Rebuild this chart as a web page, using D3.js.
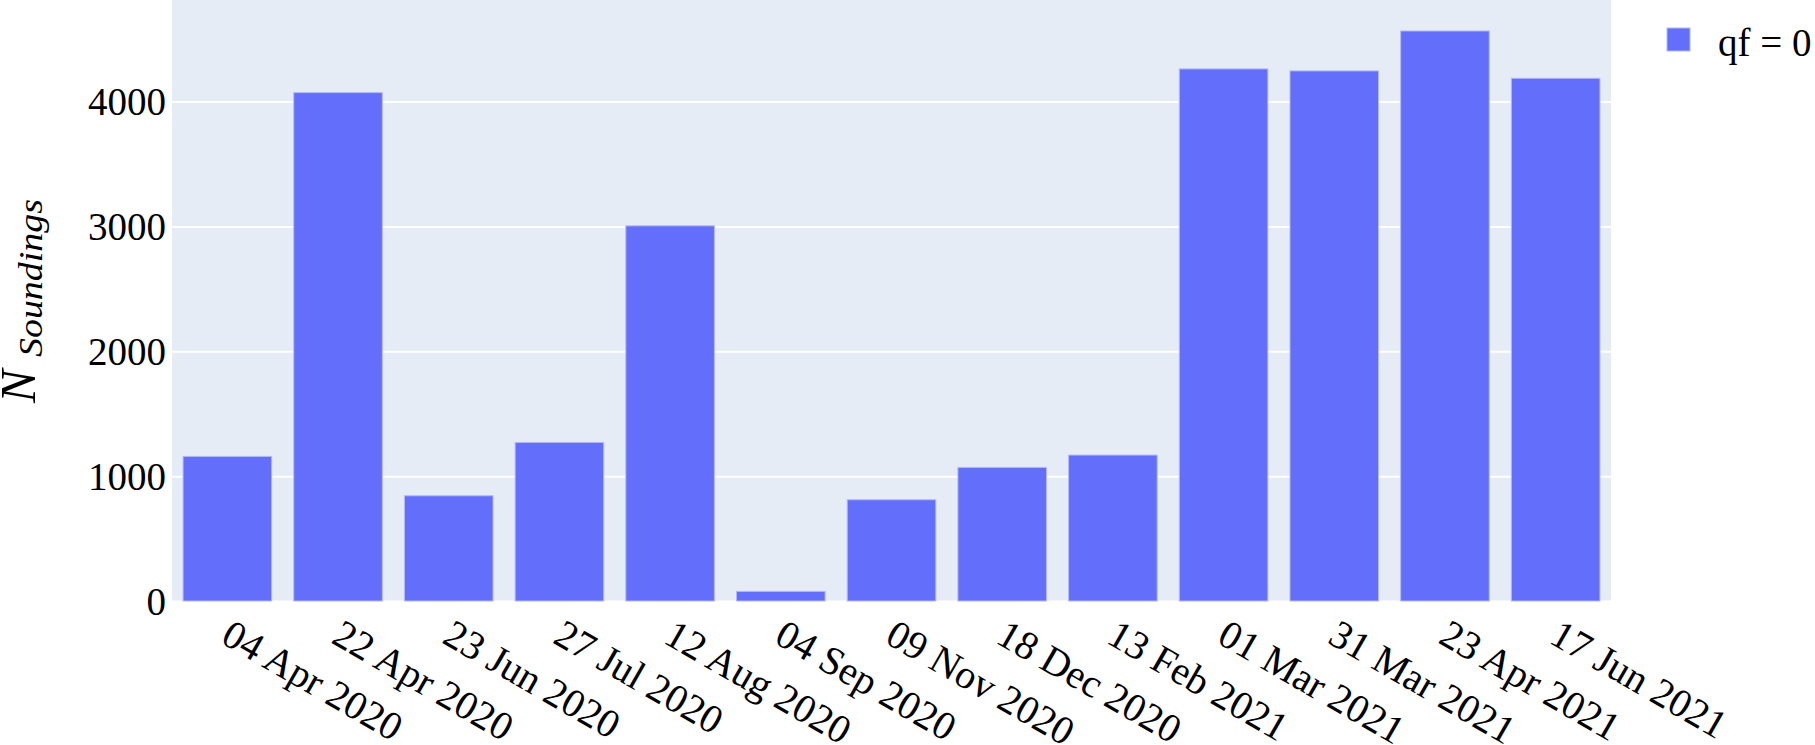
<!DOCTYPE html>
<html>
<head>
<meta charset="utf-8">
<script src="https://cdnjs.cloudflare.com/ajax/libs/d3/7.8.5/d3.min.js"></script>
<style>
    body { margin: 0; background: #fff; }
    text { font-family: "Liberation Serif", "Times New Roman", serif; fill: #000; }
</style>
</head>
<body>
<div class="chart"></div>
<script>
// observation dates (categories) and number of soundings with qf = 0
var dates = ['04 Apr 2020', '22 Apr 2020', '23 Jun 2020', '27 Jul 2020', '12 Aug 2020',
    '04 Sep 2020', '09 Nov 2020', '18 Dec 2020', '13 Feb 2021', '01 Mar 2021',
    '31 Mar 2021', '23 Apr 2021', '17 Jun 2021'];
var counts = [1158, 4072, 843, 1270, 3005, 77, 811, 1070, 1169, 4262, 4246, 4566, 4187];
var yTicks = [0, 1000, 2000, 3000, 4000];
var seriesName = 'qf = 0';

var margin = {
    top: 0,
    right: 204,
    bottom: 144,
    left: 172
};
var width = 1815 - margin.left - margin.right;
var height = 745 - margin.top - margin.bottom;

var svg = d3.select('.chart')
    .append('svg')
    .attr('width', width + margin.left + margin.right)
    .attr('height', height + margin.top + margin.bottom)
    .append('g')
    .attr('transform', 'translate(' + margin.left + ', ' + margin.top + ')');

// plot background
svg.append('rect')
    .attr('width', width)
    .attr('height', height)
    .style('fill', '#e5ecf6');

/**
 * Scales
 */
var xScale = d3.scaleBand()
    .domain(dates)
    .range([0, width])
    .paddingInner(0.2)
    .paddingOuter(0.1);

var yScale = d3.scaleLinear()
    .domain([0, 4814])
    .range([height, 0]);

/**
 * Y axis + grid
 */
var yAxis = d3.axisLeft(yScale)
    .tickValues(yTicks)
    .tickSize(-width)
    .tickPadding(6)
    .tickFormat(d3.format('d'));

var gy = svg.append('g').call(yAxis);
gy.select('.domain').remove();
gy.selectAll('.tick line')
    .style('stroke', '#fff')
    .style('stroke-width', 2);
gy.selectAll('.tick text')
    .attr('dy', '0.34em')
    .style('font-size', '39px');

/**
 * Bars
 */
svg.selectAll('.bar')
    .data(counts)
    .enter()
    .append('rect')
    .attr('class', 'bar')
    .attr('x', (d, i) => xScale(dates[i]))
    .attr('width', xScale.bandwidth())
    .attr('y', d => yScale(d))
    .attr('height', d => height - yScale(d))
    .style('fill', '#636efa')
    .style('stroke', '#b3b9f3')
    .style('stroke-width', 1);

/**
 * X axis labels (rotated 30deg, no ticks)
 */
var xAxis = d3.axisBottom(xScale).tickSize(0).tickPadding(0);
var gx = svg.append('g')
    .attr('transform', `translate(0, ${height})`)
    .call(xAxis);
gx.select('.domain').remove();
gx.selectAll('.tick text')
    .attr('y', 0)
    .attr('dy', 0)
    .style('text-anchor', 'start')
    .style('font-size', '40px')
    .attr('transform', 'translate(-8, 41) rotate(30)');

/**
 * Y axis title: N_Soundings
 */
var title = svg.append('g')
    .attr('transform', `translate(${35 - margin.left}, 403) rotate(-90)`);
title.append('text')
    .style('font-size', '50px')
    .style('font-style', 'italic')
    .text('N');
title.append('text')
    .attr('x', 46)
    .attr('y', 7)
    .attr('textLength', 158)
    .attr('lengthAdjust', 'spacingAndGlyphs')
    .style('font-size', '34px')
    .style('font-style', 'italic')
    .text('Soundings');

/**
 * Legend
 */
var legend = svg.append('g')
    .attr('transform', `translate(${width + 56}, 28)`);
legend.append('rect')
    .attr('width', 23)
    .attr('height', 23)
    .style('fill', '#636efa')
    .style('stroke', '#b3b9f3')
    .style('stroke-width', 1);
legend.append('text')
    .attr('x', 51)
    .attr('y', 28)
    .style('font-size', '39px')
    .text(seriesName);
</script>
</body>
</html>
